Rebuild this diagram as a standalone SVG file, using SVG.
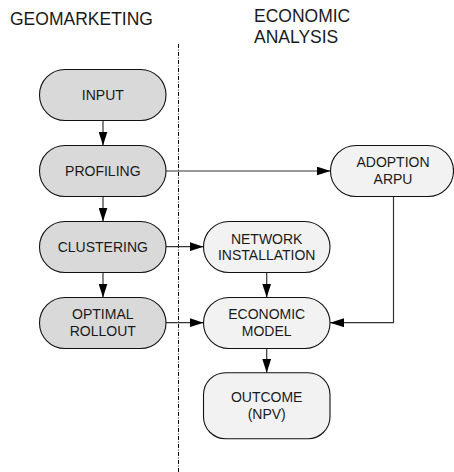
<svg xmlns="http://www.w3.org/2000/svg" width="454" height="472" viewBox="0 0 454 472">
  <style>
    .hdr { font-family: "Liberation Sans", Arial, sans-serif; font-size: 17.5px; fill: #1a1a1a; }
    .lbl { font-family: "Liberation Sans", Arial, sans-serif; font-size: 14px; fill: #1a1a1a; text-anchor: middle; }
    .geo { fill: #d9d9d9; stroke: #111; stroke-width: 1.1; }
    .eco { fill: #f2f2f2; stroke: #111; stroke-width: 1.1; }
    .wire { fill: none; stroke: #333; stroke-width: 1.2; marker-end: url(#arrow); }
    .divider { fill: none; stroke: #111; stroke-width: 1; stroke-dasharray: 4 1.5 1 1.5; }
  </style>
  <defs>
    <marker id="arrow" viewBox="0 0 14 9" refX="14" refY="4.5" markerWidth="14" markerHeight="9" markerUnits="userSpaceOnUse" orient="auto">
      <path d="M0,0 L14,4.5 L0,9 Z" fill="#000"/>
    </marker>
  </defs>
  <rect width="454" height="472" fill="#fff"/>

  <!-- column headings -->
  <text class="hdr" x="10" y="25">GEOMARKETING</text>
  <text class="hdr" x="254" y="22">ECONOMIC</text>
  <text class="hdr" x="254" y="42.5">ANALYSIS</text>

  <!-- column divider -->
  <line class="divider" x1="178.5" y1="44" x2="178.5" y2="472"/>

  <g id="connectors">
    <line class="wire" x1="103" y1="120.5" x2="103" y2="145.5"/>
    <line class="wire" x1="103" y1="196.5" x2="103" y2="221.5"/>
    <line class="wire" x1="103" y1="272.5" x2="103" y2="297.5"/>
    <line class="wire" x1="166" y1="171" x2="330.5" y2="171"/>
    <line class="wire" x1="166" y1="246.7" x2="203.5" y2="246.7"/>
    <line class="wire" x1="266.7" y1="272.5" x2="266.7" y2="297.5"/>
    <line class="wire" x1="166" y1="322.7" x2="203.5" y2="322.7"/>
    <polyline class="wire" points="393.5,196.5 393.5,322.7 330,322.7"/>
    <line class="wire" x1="266.7" y1="348" x2="266.7" y2="372.7"/>
  </g>

  <g id="input">
    <rect class="geo" x="39.5" y="69.5" width="126.5" height="51" rx="25.5"/>
    <text class="lbl" x="102.8" y="100">INPUT</text>
  </g>
  <g id="profiling">
    <rect class="geo" x="39.5" y="145.5" width="126.5" height="51" rx="25.5"/>
    <text class="lbl" x="102.8" y="176">PROFILING</text>
  </g>
  <g id="clustering">
    <rect class="geo" x="39.5" y="221.5" width="126.5" height="51" rx="25.5"/>
    <text class="lbl" x="102.8" y="252">CLUSTERING</text>
  </g>
  <g id="optimal-rollout">
    <rect class="geo" x="39.5" y="297.5" width="126.5" height="51" rx="25.5"/>
    <text class="lbl" x="102.8" y="318.5">OPTIMAL</text>
    <text class="lbl" x="102.8" y="335.5">ROLLOUT</text>
  </g>
  <g id="adoption-arpu">
    <rect class="eco" x="330.5" y="145.5" width="123" height="51" rx="25.5"/>
    <text class="lbl" x="393" y="167.3">ADOPTION</text>
    <text class="lbl" x="393" y="184">ARPU</text>
  </g>
  <g id="network-installation">
    <rect class="eco" x="203.5" y="221.5" width="126.5" height="51" rx="25.5"/>
    <text class="lbl" x="266.7" y="243.5">NETWORK</text>
    <text class="lbl" x="266.7" y="260">INSTALLATION</text>
  </g>
  <g id="economic-model">
    <rect class="eco" x="203.5" y="297.5" width="126.5" height="51" rx="25.5"/>
    <text class="lbl" x="266.7" y="318.5">ECONOMIC</text>
    <text class="lbl" x="266.7" y="335.8">MODEL</text>
  </g>
  <g id="outcome">
    <rect class="eco" x="203.5" y="372.7" width="126.5" height="66" rx="22"/>
    <text class="lbl" x="266.7" y="401.7">OUTCOME</text>
    <text class="lbl" x="266.7" y="418.5">(NPV)</text>
  </g>
</svg>
